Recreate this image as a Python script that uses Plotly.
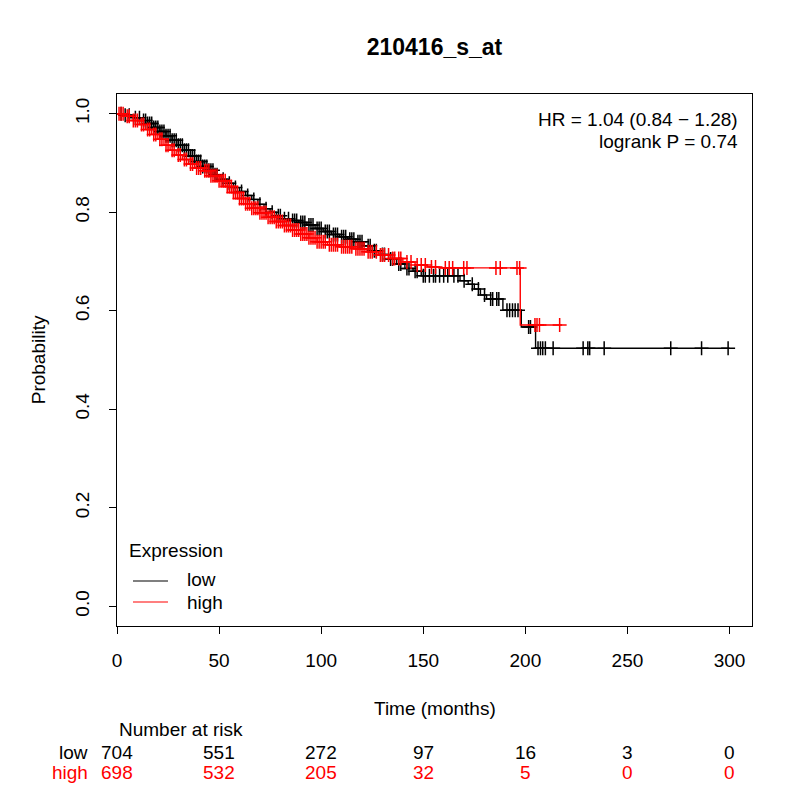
import plotly.graph_objects as go

# Kaplan-Meier step points (time in months, survival after the drop)
low_time = [0, 3, 8, 12, 15, 18, 21, 24, 27, 30, 33, 36, 39, 42, 45, 48, 51, 54, 57, 60,
            63, 66, 69, 72, 75, 78, 81, 85, 89, 93, 97, 101, 105, 109, 113, 117, 121, 125,
            129, 133, 137, 141, 145, 149, 168, 172, 175, 178, 181, 189, 198, 205]
low_surv = [1.0, 0.997, 0.992, 0.986, 0.980, 0.972, 0.964, 0.955, 0.946, 0.936, 0.926, 0.914,
            0.903, 0.893, 0.885, 0.876, 0.867, 0.859, 0.850, 0.842, 0.834, 0.826, 0.816, 0.807,
            0.800, 0.793, 0.787, 0.783, 0.779, 0.774, 0.767, 0.761, 0.755, 0.750, 0.745, 0.740,
            0.732, 0.722, 0.714, 0.705, 0.695, 0.686, 0.680, 0.671, 0.661, 0.654, 0.644, 0.632,
            0.624, 0.601, 0.567, 0.524]
low_end = 300

high_time = [0, 4, 8, 11, 14, 17, 20, 23, 26, 29, 32, 35, 38, 42, 46, 50, 54, 57, 60, 63, 66,
             70, 74, 78, 82, 86, 90, 94, 98, 103, 109, 116, 122, 128, 134, 140, 146, 152, 158,
             197.5]
high_surv = [1.0, 0.995, 0.986, 0.978, 0.968, 0.958, 0.948, 0.936, 0.926, 0.916, 0.907, 0.898,
             0.890, 0.884, 0.874, 0.864, 0.852, 0.840, 0.828, 0.817, 0.808, 0.799, 0.790, 0.781,
             0.773, 0.764, 0.756, 0.748, 0.740, 0.734, 0.730, 0.726, 0.720, 0.713, 0.706, 0.699,
             0.693, 0.689, 0.687, 0.571]
high_end = 218

# censoring times
low_censor = [2, 4, 6, 9, 11, 13, 14, 15, 16, 17, 18, 19, 20, 21, 22, 23, 24, 25, 26, 27, 28,
              29, 30, 31, 32, 33, 34, 35, 36, 37, 38, 39, 40, 41, 42, 43, 44, 45, 46, 47, 48,
              49, 52, 55, 58, 61, 64, 67, 70, 73, 76, 79, 80, 82, 84, 86, 87, 88, 90, 91, 92,
              94, 95, 96, 98, 99, 100, 102, 103, 104, 106, 107, 108, 110, 111, 112, 114, 115,
              116, 118, 119, 120, 123, 124, 126, 127, 130, 131, 134, 135, 138, 139, 142, 143,
              146, 147, 150, 151, 153, 155, 156, 158, 160, 162, 165, 167, 170, 174, 177, 180,
              183, 184, 186, 187, 191, 192.3, 193.7, 195, 196.4, 201.6, 202.5, 206.2, 207.4,
              208.5, 209.8, 213.6, 228.3, 230.6, 231.5, 238.6, 271.2, 286.3, 299.3]
high_censor = [1, 2, 3, 5, 6, 8, 9, 10, 12, 13, 15, 16, 18, 19, 21, 22, 24, 25, 27, 28, 30, 31,
               33, 34, 36, 37, 39, 40, 41, 43, 44, 45, 46, 47, 48, 49, 50, 51, 52, 53, 54, 55,
               56, 57, 58, 59, 60, 61, 62, 63, 64, 65, 66, 67, 68, 69, 70, 71, 72, 73, 74, 75,
               76, 77, 78, 79, 80, 81, 82, 83, 84, 85, 86, 87, 88, 89, 90, 91, 92, 93, 94, 95,
               96, 97, 98, 99, 100, 101, 102, 104, 105, 106, 107, 108, 110, 111, 112, 113, 114,
               115, 117, 118, 119, 120, 121, 123, 124, 125, 127, 129, 130, 131, 133, 135, 136,
               138, 139, 142, 144, 147, 149, 151, 154, 156, 160.8, 162.7, 164.4, 169.8, 171.4,
               185.6, 187.7, 195.9, 197.2, 204.7, 205.7, 206.9, 216.8]

risk_times = [0, 50, 100, 150, 200, 250, 300]
risk_low = [704, 551, 272, 97, 16, 3, 0]
risk_high = [698, 532, 205, 32, 5, 0, 0]

FONT = "Liberation Sans, Arial, sans-serif"
FS = 19
RED = "#FF0000"


def surv_at(times, survs, t):
    s = survs[0]
    for tt, ss in zip(times, survs):
        if tt <= t:
            s = ss
    return s


fig = go.Figure()

groups = [("low", "black", low_time, low_surv, low_end, low_censor),
          ("high", RED, high_time, high_surv, high_end, high_censor)]

for name, col, tms, svs, end, cens in groups:
    fig.add_trace(go.Scatter(
        x=tms + [end], y=svs + [svs[-1]], mode="lines", name=name,
        line=dict(color=col, width=1.4, shape="hv"),
    ))
    fig.add_trace(go.Scatter(
        x=cens, y=[surv_at(tms, svs, c) for c in cens], mode="markers", showlegend=False,
        marker=dict(symbol="cross-thin", size=10, line=dict(color=col, width=1.5)),
    ))


def txt(s, x, y, xa="center", xref="paper", color="black", **kw):
    return dict(text=s, xref=xref, yref="paper", x=x, y=y, xanchor=xa, yanchor="middle",
                showarrow=False, font=dict(size=FS, color=color), **kw)


ann = [
    txt("HR = 1.04 (0.84 \u2212 1.28)", 0.981, 0.953, "right"),
    txt("logrank P = 0.74", 0.981, 0.910, "right"),
    txt("Probability", -0.124, 0.5, textangle=-90),
    txt("Time (months)", 0.5, -0.156),
    txt("Number at risk", 0, -0.195, "left", xref="x"),
    txt("low", -0.0425, -0.237, "right"),
    txt("high", -0.0425, -0.276, "right", color=RED),
    # legend
    txt("Expression", 0.0157, 0.141, "left"),
    txt("low", 0.107, 0.0865, "left"),
    txt("high", 0.107, 0.0451, "left"),
]
for t, a, b in zip(risk_times, risk_low, risk_high):
    ann.append(txt(str(a), t, -0.237, xref="x"))
    ann.append(txt(str(b), t, -0.276, xref="x", color=RED))

legend_lines = [
    dict(type="line", xref="paper", yref="paper", x0=0.0252, x1=0.0803, y0=0.0846, y1=0.0846,
         line=dict(color="black", width=1.2)),
    dict(type="line", xref="paper", yref="paper", x0=0.0252, x1=0.0803, y0=0.0451, y1=0.0451,
         line=dict(color=RED, width=1.2)),
]

fig.update_layout(
    width=800, height=800,
    margin=dict(l=109, r=56, t=86, b=182),
    paper_bgcolor="white", plot_bgcolor="white",
    font=dict(family=FONT, size=FS, color="black"),
    title=dict(text="<b>210416_s_at</b>", xref="paper", x=0.5, xanchor="center",
               yref="container", y=0.951, yanchor="middle", font=dict(size=23)),
    showlegend=False,
    annotations=ann,
    shapes=legend_lines,
    xaxis=dict(range=[0, 311], showline=True, mirror=True, linecolor="black", linewidth=1,
               showgrid=False, zeroline=False, ticks="outside", ticklen=7, tickcolor="black",
               tickvals=risk_times, tickfont=dict(size=FS), ticklabelstandoff=10),
    yaxis=dict(range=[-0.04, 1.04], showline=True, mirror=True, linecolor="black", linewidth=1,
               showgrid=False, zeroline=False, ticks="outside", ticklen=7, tickcolor="black",
               tickvals=[0, 0.2, 0.4, 0.6, 0.8, 1.0], ticktext=["0.0", "0.2", "0.4", "0.6", "0.8", "1.0"],
               tickangle=-90, tickfont=dict(size=FS), ticklabelstandoff=12),
)

fig.write_html("out.html")
